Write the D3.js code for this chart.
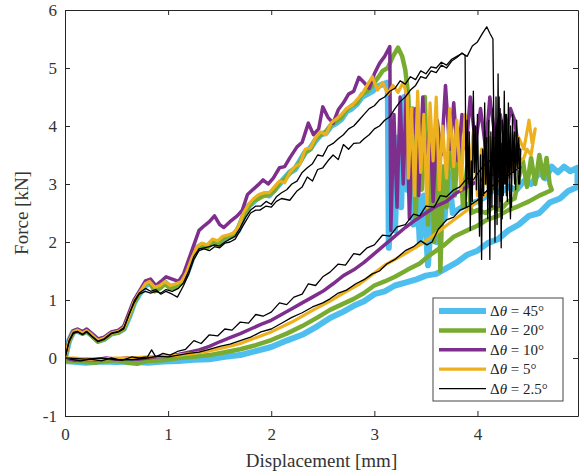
<!DOCTYPE html>
<html>
<head>
<meta charset="utf-8">
<script src="https://cdn.jsdelivr.net/npm/d3@7"></script>
<style>
  body { margin: 0; background: #fff; }
  svg { font-family: "Liberation Serif", "DejaVu Serif", serif; }
</style>
</head>
<body>
<svg width="584" height="476"></svg>
<script>
// ---- data (displacement [mm], force [kN]) ----
const blueLoad = [[0,0],[0.04,0.3],[0.08,0.45],[0.12,0.47],[0.17,0.43],[0.21,0.47],[0.26,0.4],[0.32,0.3],[0.38,0.33],[0.45,0.42],[0.52,0.45],[0.57,0.5],[0.62,0.7],[0.67,0.95],[0.72,1.1],[0.78,1.25],[0.82,1.3],[0.87,1.2],[0.92,1.22],[0.97,1.3],[1.02,1.22],[1.08,1.25],[1.13,1.3],[1.18,1.45],[1.23,1.7],[1.28,1.9],[1.33,1.95],[1.38,1.92],[1.43,2.0],[1.48,1.98],[1.53,2.05],[1.58,2.08],[1.63,2.12],[1.68,2.2],[1.73,2.45],[1.78,2.62],[1.83,2.7],[1.88,2.78],[1.93,2.82],[1.98,2.8],[2.03,2.9],[2.08,3.0],[2.13,3.1],[2.18,3.2],[2.23,3.25],[2.28,3.4],[2.33,3.55],[2.38,3.62],[2.43,3.75],[2.48,3.85],[2.53,3.88],[2.58,4.0],[2.63,4.05],[2.68,4.12],[2.73,4.25],[2.78,4.3],[2.83,4.38],[2.88,4.5],[2.93,4.55],[2.98,4.6],[3.03,4.68],[3.08,4.72],[3.13,4.75]];
const bluePost = [[3.14,1.9],[3.17,3.4],[3.2,2.2],[3.23,3.8],[3.26,2.6],[3.29,4.5],[3.32,2.9],[3.35,3.6],[3.38,2.3],[3.41,3.1],[3.44,2.0],[3.48,2.8],[3.52,1.6],[3.56,2.6],[3.6,2.0],[3.64,3.3],[3.68,2.4],[3.72,3.2],[3.76,2.5],[3.85,2.6],[3.92,2.65],[4.0,2.7],[4.08,2.78],[4.15,2.9],[4.22,2.85],[4.3,2.95],[4.38,2.9],[4.45,3.05],[4.52,3.0],[4.6,3.2],[4.66,3.1],[4.72,3.3],[4.78,3.2],[4.84,3.3],[4.9,3.22],[4.97,3.28]];
const blueUnload = [[4.97,2.95],[4.88,2.88],[4.8,2.75],[4.7,2.68],[4.6,2.5],[4.5,2.45],[4.4,2.3],[4.3,2.2],[4.2,2.05],[4.1,1.98],[4.0,1.85],[3.9,1.78],[3.8,1.65],[3.7,1.55],[3.6,1.45],[3.5,1.42],[3.4,1.35],[3.3,1.3],[3.2,1.25],[3.1,1.15],[3.0,1.1],[2.9,0.98],[2.8,0.9],[2.7,0.8],[2.57,0.69],[2.45,0.55],[2.3,0.4],[2.15,0.3],[2.0,0.19],[1.85,0.12],[1.7,0.05],[1.55,0.02],[1.4,-0.02],[1.25,-0.03],[1.1,-0.05],[0.95,-0.06],[0.8,-0.08],[0.65,-0.06],[0.5,-0.07],[0.35,-0.06],[0.2,-0.08],[0,-0.05]];

const greenLoad = [[0,0],[0.04,0.3],[0.08,0.44],[0.12,0.47],[0.17,0.42],[0.21,0.46],[0.26,0.38],[0.32,0.28],[0.38,0.32],[0.45,0.42],[0.52,0.44],[0.57,0.5],[0.62,0.72],[0.67,0.95],[0.72,1.12],[0.78,1.28],[0.82,1.32],[0.87,1.15],[0.92,1.2],[0.97,1.28],[1.02,1.2],[1.08,1.22],[1.13,1.3],[1.18,1.45],[1.23,1.72],[1.28,1.88],[1.33,1.95],[1.38,1.9],[1.43,2.0],[1.48,1.95],[1.53,2.05],[1.58,2.1],[1.63,2.1],[1.68,2.25],[1.73,2.45],[1.78,2.6],[1.83,2.72],[1.88,2.75],[1.93,2.8],[1.98,2.82],[2.03,2.88],[2.08,3.02],[2.13,3.08],[2.18,3.2],[2.23,3.28],[2.28,3.38],[2.33,3.55],[2.38,3.6],[2.43,3.78],[2.48,3.85],[2.53,3.9],[2.58,4.02],[2.63,4.08],[2.68,4.15],[2.73,4.28],[2.78,4.35],[2.83,4.4],[2.88,4.55],[2.93,4.6],[2.98,4.7],[3.03,4.82],[3.08,4.95],[3.13,5.0],[3.18,5.2],[3.23,5.35],[3.27,5.2],[3.3,4.97]];
const greenPost = [[3.33,4.5],[3.35,3.3],[3.37,4.3],[3.4,2.4],[3.43,3.9],[3.46,2.9],[3.49,4.5],[3.52,2.3],[3.55,3.8],[3.58,2.0],[3.62,3.5],[3.64,1.5],[3.67,3.3],[3.7,2.6],[3.74,4.0],[3.78,2.8],[3.82,3.9],[3.86,2.6],[3.9,3.3],[3.94,2.5],[4.0,2.55],[4.08,2.5],[4.15,2.6],[4.22,2.55],[4.3,2.7],[4.36,2.75],[4.4,3.1],[4.44,3.4],[4.48,2.95],[4.52,3.45],[4.56,3.0],[4.6,3.5],[4.64,3.1],[4.67,3.45],[4.7,3.0],[4.72,2.9]];
const greenUnload = [[4.7,2.88],[4.6,2.8],[4.5,2.7],[4.4,2.62],[4.3,2.55],[4.2,2.45],[4.09,2.38],[4.0,2.28],[3.9,2.2],[3.77,2.09],[3.68,1.95],[3.6,1.85],[3.52,1.75],[3.44,1.63],[3.32,1.52],[3.2,1.4],[3.1,1.32],[3.0,1.25],[2.9,1.12],[2.8,1.02],[2.68,0.92],[2.57,0.83],[2.45,0.7],[2.3,0.55],[2.15,0.42],[2.0,0.31],[1.85,0.22],[1.7,0.15],[1.55,0.1],[1.4,0.05],[1.25,0.02],[1.1,0.0],[0.95,-0.04],[0.8,-0.05],[0.7,-0.1],[0.6,-0.08],[0.5,-0.04],[0.4,-0.05],[0.3,-0.08],[0.2,-0.07],[0.1,-0.05],[0,-0.05]];

const purpleLoad = [[0,0],[0.04,0.32],[0.08,0.47],[0.12,0.5],[0.17,0.45],[0.21,0.5],[0.26,0.42],[0.32,0.33],[0.38,0.36],[0.45,0.45],[0.52,0.48],[0.57,0.55],[0.62,0.78],[0.67,1.0],[0.72,1.15],[0.78,1.33],[0.83,1.36],[0.88,1.25],[0.93,1.32],[0.98,1.4],[1.04,1.36],[1.1,1.32],[1.15,1.45],[1.2,1.7],[1.25,1.95],[1.3,2.2],[1.35,2.28],[1.4,2.35],[1.45,2.45],[1.5,2.3],[1.54,2.25],[1.6,2.35],[1.67,2.45],[1.72,2.55],[1.77,2.82],[1.82,2.9],[1.87,2.98],[1.92,3.07],[1.97,3.0],[2.02,3.1],[2.08,3.28],[2.13,3.3],[2.18,3.45],[2.25,3.64],[2.3,3.72],[2.36,4.05],[2.41,3.85],[2.46,3.95],[2.5,4.33],[2.55,4.15],[2.6,4.05],[2.65,4.28],[2.7,4.4],[2.75,4.55],[2.8,4.6],[2.85,4.84],[2.9,4.75],[2.95,4.65],[3.0,4.9],[3.05,5.08],[3.1,5.2],[3.15,5.37]];
const purplePost = [[3.16,2.2],[3.19,4.2],[3.22,2.6],[3.25,4.5],[3.28,3.0],[3.31,4.6],[3.34,2.4],[3.37,3.8],[3.4,4.3],[3.43,2.8],[3.47,4.5],[3.5,3.3],[3.54,4.0],[3.57,2.7],[3.61,4.1],[3.65,3.5],[3.69,4.7],[3.73,3.6],[3.77,4.4],[3.81,3.4],[3.85,4.2],[3.89,3.6],[3.93,4.5],[3.98,3.7],[4.03,4.3],[4.08,3.6],[4.12,4.5],[4.17,3.8],[4.22,4.2],[4.27,3.7],[4.32,4.3],[4.36,4.1],[4.4,3.6]];
const purpleUnload = [[4.4,3.45],[4.3,3.3],[4.2,3.22],[4.1,3.12],[4.0,3.05],[3.9,2.95],[3.8,2.85],[3.7,2.7],[3.6,2.62],[3.5,2.5],[3.4,2.38],[3.3,2.25],[3.2,2.1],[3.1,1.95],[3.0,1.8],[2.9,1.65],[2.8,1.52],[2.7,1.42],[2.6,1.28],[2.5,1.15],[2.4,1.05],[2.3,0.95],[2.2,0.85],[2.1,0.75],[2.0,0.65],[1.9,0.58],[1.8,0.5],[1.7,0.42],[1.6,0.35],[1.5,0.28],[1.4,0.2],[1.3,0.14],[1.2,0.1],[1.1,0.06],[1.0,0.03],[0.9,0.02],[0.8,0.0],[0.7,-0.02],[0.6,0.0],[0.5,-0.02],[0.4,0.0],[0.3,-0.03],[0.2,-0.02],[0.1,-0.04],[0,0]];

const yellowLoad = [[0,0],[0.04,0.3],[0.08,0.45],[0.12,0.48],[0.17,0.43],[0.21,0.47],[0.26,0.4],[0.32,0.3],[0.38,0.34],[0.45,0.43],[0.52,0.46],[0.57,0.52],[0.62,0.72],[0.67,0.97],[0.72,1.12],[0.78,1.28],[0.82,1.32],[0.87,1.22],[0.92,1.25],[0.97,1.32],[1.02,1.25],[1.08,1.28],[1.13,1.32],[1.18,1.48],[1.23,1.72],[1.28,1.92],[1.33,1.98],[1.38,1.95],[1.43,2.05],[1.48,2.02],[1.53,2.1],[1.58,2.12],[1.63,2.15],[1.68,2.25],[1.73,2.5],[1.78,2.65],[1.83,2.75],[1.88,2.82],[1.93,2.85],[1.98,2.85],[2.03,2.95],[2.08,3.05],[2.13,3.02],[2.18,3.2],[2.23,3.3],[2.28,3.35],[2.33,3.6],[2.38,3.62],[2.43,3.8],[2.48,3.9],[2.53,3.85],[2.58,4.05],[2.63,4.12],[2.68,4.2],[2.73,4.3],[2.78,4.35],[2.83,4.45],[2.88,4.55],[2.93,4.7],[2.98,4.85],[3.03,4.62],[3.08,4.75],[3.13,4.55],[3.18,4.7],[3.23,4.58],[3.28,4.75],[3.32,4.5]];
const yellowPost = [[3.33,3.1],[3.36,4.3],[3.39,2.8],[3.42,4.6],[3.45,3.2],[3.48,4.2],[3.51,2.6],[3.54,4.4],[3.57,3.4],[3.6,4.5],[3.63,2.9],[3.66,4.0],[3.7,3.1],[3.73,4.3],[3.77,3.3],[3.8,4.1],[3.84,2.9],[3.88,4.2],[3.92,3.2],[3.96,3.9],[4.0,2.8],[4.04,3.6],[4.08,3.0],[4.12,3.8],[4.16,3.2],[4.2,3.4],[4.25,3.1],[4.3,3.5],[4.35,3.3],[4.4,3.8],[4.45,3.6],[4.5,4.1],[4.53,3.7],[4.56,3.95],[4.52,3.5],[4.48,3.6]];
const yellowUnload = [[4.45,3.45],[4.3,3.2],[4.1,2.85],[3.9,2.55],[3.77,2.38],[3.6,2.15],[3.47,1.98],[3.3,1.8],[3.1,1.6],[2.86,1.28],[2.7,1.12],[2.57,0.98],[2.4,0.82],[2.2,0.62],[2.0,0.45],[1.85,0.35],[1.7,0.25],[1.55,0.18],[1.4,0.12],[1.25,0.08],[1.1,0.05],[0.95,0.03],[0.8,0.02],[0.65,0.0],[0.5,0.0],[0.35,-0.02],[0.2,-0.02],[0.1,0.0],[0,0]];

const blackLoadA = [[0,0],[0.04,0.28],[0.08,0.42],[0.12,0.45],[0.17,0.4],[0.21,0.45],[0.26,0.37],[0.32,0.28],[0.38,0.32],[0.45,0.42],[0.52,0.45],[0.57,0.5],[0.62,0.75],[0.67,0.95],[0.72,1.1],[0.78,1.15],[0.83,1.12],[0.88,1.15],[0.93,1.12],[0.98,1.18],[1.04,1.15],[1.1,1.2],[1.15,1.3],[1.2,1.5],[1.25,1.75],[1.3,1.88],[1.35,1.9],[1.4,1.92],[1.45,1.95],[1.5,1.93],[1.55,2.0],[1.6,2.05],[1.65,2.1],[1.7,2.25],[1.75,2.42],[1.8,2.55],[1.85,2.62],[1.9,2.62],[1.95,2.7],[2.0,2.65],[2.05,2.78],[2.1,2.85],[2.15,2.9],[2.2,3.0],[2.25,3.05],[2.3,3.2],[2.35,3.28],[2.4,3.35],[2.45,3.5],[2.5,3.48],[2.55,3.65],[2.6,3.7],[2.65,3.78],[2.7,3.85],[2.75,3.95],[2.8,4.0],[2.85,4.1],[2.9,4.2],[2.95,4.3],[3.0,4.35],[3.05,4.45],[3.1,4.5],[3.15,4.6],[3.2,4.65],[3.25,4.78],[3.3,4.72],[3.35,4.85],[3.4,4.8],[3.45,4.95],[3.5,4.9],[3.55,5.02],[3.6,5.0],[3.65,5.1],[3.7,5.05],[3.75,5.15],[3.8,5.2],[3.85,5.25],[3.9,5.2],[3.95,5.38],[4.0,5.45],[4.05,5.6],[4.09,5.71],[4.12,5.6],[4.15,5.5]];
const blackPostA = [[4.16,3.8],[4.17,2.0],[4.18,4.5],[4.19,2.3],[4.2,4.9],[4.21,2.6],[4.22,4.3],[4.23,1.9],[4.24,4.1],[4.25,2.8],[4.26,4.6],[4.27,3.0],[4.28,4.2],[4.29,2.7],[4.3,4.4],[4.31,3.1],[4.32,4.0],[4.33,2.6],[4.34,4.2],[4.35,3.2],[4.36,3.9],[4.37,2.9],[4.38,4.1],[4.39,3.3],[4.4,3.8],[4.41,3.0],[4.42,3.6]];
const blackUnloadA = [[4.4,3.6],[4.3,3.45],[4.2,3.5],[4.12,3.4],[4.05,3.3],[3.96,3.07],[3.9,3.1],[3.83,2.95],[3.77,2.9],[3.7,2.78],[3.64,2.8],[3.58,2.6],[3.5,2.62],[3.44,2.45],[3.38,2.48],[3.3,2.3],[3.22,2.26],[3.15,2.1],[3.08,2.12],[3.0,1.95],[2.93,1.9],[2.86,1.78],[2.8,1.8],[2.72,1.6],[2.65,1.62],[2.57,1.48],[2.5,1.4],[2.43,1.25],[2.36,1.28],[2.3,1.1],[2.22,1.05],[2.15,0.92],[2.08,0.95],[2.0,0.79],[1.92,0.72],[1.85,0.75],[1.78,0.6],[1.7,0.62],[1.62,0.48],[1.55,0.5],[1.48,0.38],[1.4,0.4],[1.32,0.25],[1.25,0.3],[1.17,0.15],[1.1,0.12],[1.02,0.05],[0.95,0.08],[0.88,0.02],[0.84,0.14],[0.8,0.02],[0.72,0.0],[0.65,0.02],[0.55,-0.04],[0.45,0.0],[0.35,-0.05],[0.25,-0.02],[0.15,-0.05],[0.05,-0.02],[0,0]];

const blackLoadB = [[0,0],[0.04,0.3],[0.08,0.44],[0.12,0.46],[0.17,0.41],[0.21,0.46],[0.26,0.38],[0.32,0.29],[0.38,0.33],[0.45,0.43],[0.52,0.46],[0.57,0.52],[0.62,0.74],[0.67,0.98],[0.72,1.12],[0.78,1.2],[0.83,1.15],[0.88,1.18],[0.93,1.1],[0.98,1.15],[1.04,1.1],[1.09,1.05],[1.15,1.25],[1.2,1.45],[1.25,1.7],[1.3,1.85],[1.35,1.88],[1.4,1.85],[1.45,1.92],[1.5,1.9],[1.55,1.98],[1.6,2.0],[1.65,2.05],[1.7,2.2],[1.75,2.35],[1.8,2.5],[1.85,2.55],[1.89,2.55],[1.95,2.62],[2.0,2.6],[2.05,2.7],[2.1,2.75],[2.18,2.72],[2.25,2.88],[2.3,2.95],[2.35,3.12],[2.4,3.05],[2.45,3.25],[2.5,3.28],[2.55,3.4],[2.6,3.5],[2.65,3.42],[2.7,3.68],[2.75,3.6],[2.8,3.7],[2.86,3.71],[2.9,3.78],[2.95,3.85],[3.0,3.95],[3.05,4.0],[3.1,4.1],[3.15,4.16],[3.2,4.3],[3.25,4.42],[3.3,4.5],[3.35,4.62],[3.4,4.7],[3.45,4.85],[3.5,4.82],[3.55,4.95],[3.6,4.92],[3.65,5.05],[3.7,5.0],[3.75,5.12],[3.8,5.18],[3.85,5.26],[3.88,5.22]];
const blackPostB = [[3.89,2.6],[3.9,4.1],[3.91,3.0],[3.92,3.9],[3.93,2.2],[3.94,3.4],[3.95,2.7],[3.96,4.6],[3.97,3.2],[3.98,4.0],[3.99,2.9],[4.0,4.2],[4.01,3.1],[4.02,2.1],[4.03,3.5],[4.04,1.7],[4.05,3.6],[4.06,2.8],[4.07,4.4],[4.08,3.0],[4.09,3.8],[4.1,2.4],[4.11,4.1],[4.12,1.7],[4.13,3.9],[4.14,2.6],[4.15,4.3],[4.16,2.9],[4.17,3.8],[4.18,2.5],[4.19,4.0],[4.2,3.1],[4.21,4.5],[4.22,2.7],[4.23,3.7],[4.24,2.4],[4.25,3.9],[4.26,3.0],[4.27,4.2],[4.28,2.8],[4.3,3.5],[4.32,2.4],[4.34,3.9],[4.36,3.0],[4.38,3.6],[4.4,3.0],[4.42,3.3]];
const blackUnloadB = [[4.3,3.15],[4.2,3.05],[4.1,2.9],[4.0,2.72],[3.9,2.6],[3.83,2.55],[3.77,2.43],[3.7,2.38],[3.62,2.22],[3.56,2.0],[3.51,1.95],[3.45,2.02],[3.38,1.92],[3.3,1.85],[3.2,1.7],[3.12,1.62],[3.05,1.5],[2.98,1.45],[2.9,1.35],[2.82,1.28],[2.73,1.17],[2.65,1.12],[2.57,1.02],[2.5,0.95],[2.4,0.88],[2.3,0.78],[2.2,0.7],[2.1,0.6],[2.0,0.5],[1.9,0.45],[1.8,0.36],[1.7,0.3],[1.6,0.24],[1.5,0.2],[1.4,0.15],[1.3,0.1],[1.2,0.08],[1.1,0.05],[1.0,0.02],[0.9,0.03],[0.8,0.0],[0.65,-0.03],[0.5,-0.03],[0.35,0.0],[0.2,-0.02],[0,0]];

const labels = ['45', '20', '10', '5', '2.5'];
const colors = ['#4DBEEE', '#77AC30', '#7E2F8E', '#EDB120', '#000000'];
const widths = [6, 4.5, 3.5, 3.2, 1.3];
const xTicks = [0, 1, 2, 3, 4];
const yTicks = [-1, 0, 1, 2, 3, 4, 5, 6];

const series = [
	{ label: labels[0], color: colors[0], width: widths[0], runs: [blueLoad.concat(bluePost, blueUnload)] },
	{ label: labels[1], color: colors[1], width: widths[1], runs: [greenLoad.concat(greenPost, greenUnload)] },
	{ label: labels[2], color: colors[2], width: widths[2], runs: [purpleLoad.concat(purplePost, purpleUnload)] },
	{ label: labels[3], color: colors[3], width: widths[3], runs: [yellowLoad.concat(yellowPost, yellowUnload)] },
	{ label: labels[4], color: colors[4], width: widths[4], runs: [blackLoadA.concat(blackPostA, blackUnloadA), blackLoadB.concat(blackPostB, blackUnloadB)] },
];

const margin = { left: 65, right: 6, top: 10, bottom: 60 };
const width = 584;
const height = 476;
const svg = d3.select('svg');

const x = d3.scaleLinear().domain([0, 4.975]).range([margin.left, width - margin.right]);
const y = d3.scaleLinear().domain([-1, 6]).range([height - margin.bottom, margin.top]);

const line = d3.line().x((d) => x(d[0])).y((d) => y(d[1]));

svg.append('defs').append('clipPath').attr('id', 'plot')
	.append('rect')
	.attr('x', x(0)).attr('y', y(6))
	.attr('width', x(4.975) - x(0)).attr('height', y(-1) - y(6));

const g = svg.append('g').attr('clip-path', 'url(#plot)');

series.forEach((s) => {
	s.runs.forEach((run) => {
		g.append('path')
			.attr('d', line(run))
			.attr('fill', 'none')
			.attr('stroke', s.color)
			.attr('stroke-width', s.width)
			.attr('stroke-linejoin', 'round')
			.attr('stroke-linecap', 'round');
	});
});

// axes, ticks pointing inward on all four sides
const axisColor = '#262626';
const fmt = (d) => String(d); // keep "-1" with a plain hyphen as in the figure
function styleAxis(sel) {
	sel.select('.domain').attr('stroke', axisColor).attr('stroke-width', 1);
	sel.selectAll('.tick line').attr('stroke', axisColor);
	sel.selectAll('.tick text').attr('fill', '#333').style('font-size', '17px').style('font-family', '"Liberation Serif", serif');
}

svg.append('g')
	.attr('transform', `translate(0,${y(-1)})`)
	.call(d3.axisBottom(x).tickValues(xTicks).tickSizeInner(-5).tickSizeOuter(0).tickPadding(12).tickFormat(fmt))
	.call(styleAxis);
svg.append('g')
	.attr('transform', `translate(0,${y(6)})`)
	.call(d3.axisTop(x).tickValues(xTicks).tickSizeInner(-5).tickSizeOuter(0).tickFormat(''))
	.call(styleAxis);
svg.append('g')
	.attr('transform', `translate(${x(0)},0)`)
	.call(d3.axisLeft(y).tickValues(yTicks).tickSizeInner(-5).tickSizeOuter(0).tickPadding(8).tickFormat(fmt))
	.call(styleAxis);
svg.append('g')
	.attr('transform', `translate(${x(4.975)},0)`)
	.call(d3.axisRight(y).tickValues(yTicks).tickSizeInner(-5).tickSizeOuter(0).tickFormat(''))
	.call(styleAxis);

svg.append('text')
	.attr('x', (x(0) + x(4.975)) / 2)
	.attr('y', 467)
	.attr('text-anchor', 'middle')
	.attr('fill', '#333')
	.style('font-size', '19px')
	.text('Displacement [mm]');

svg.append('text')
	.attr('transform', `translate(28,${(y(-1) + y(6)) / 2}) rotate(-90)`)
	.attr('text-anchor', 'middle')
	.attr('fill', '#333')
	.style('font-size', '19px')
	.text('Force [kN]');

// legend
const lg = svg.append('g').attr('transform', 'translate(433,298)');
lg.append('rect')
	.attr('width', 130).attr('height', 103)
	.attr('fill', '#fff').attr('stroke', '#444').attr('stroke-width', 1);

series.forEach((s, i) => {
	const ly = 13 + i * 19.4;
	lg.append('line')
		.attr('x1', 6).attr('x2', 53)
		.attr('y1', ly).attr('y2', ly)
		.attr('stroke', s.color)
		.attr('stroke-width', s.width);
	const t = lg.append('text')
		.attr('x', 57).attr('y', ly + 5)
		.attr('fill', '#222')
		.style('font-size', '15px');
	t.append('tspan').text('Δ');
	t.append('tspan').attr('font-style', 'italic').text('θ');
	t.append('tspan').text(` = ${s.label}°`);
});
</script>
</body>
</html>
